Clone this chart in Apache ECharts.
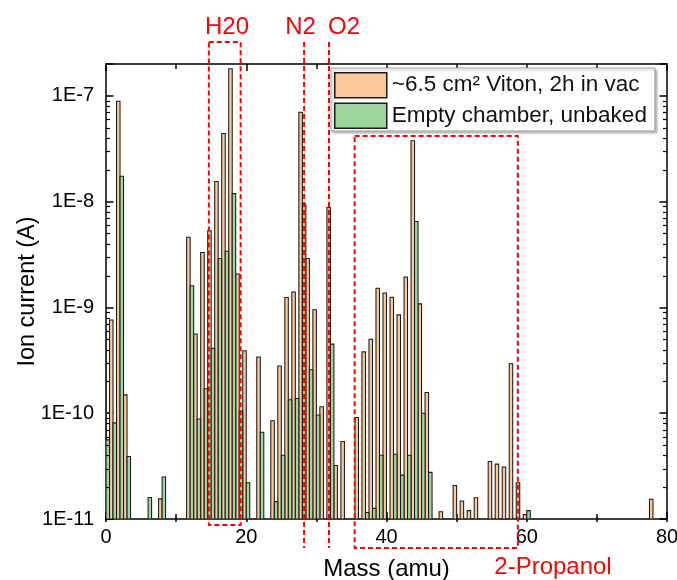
<!DOCTYPE html>
<html><head><meta charset="utf-8">
<script src="https://cdn.jsdelivr.net/npm/echarts@6/dist/echarts.min.js"></script>
<style>html,body{margin:0;padding:0;background:#fff}#c{width:677px;height:580px}</style>
</head><body><div id="c"></div>
<script>
// ---- data ----
const mass  = [0, 1, 2, 3, 6, 8, 12, 13, 14, 15, 16, 17, 18, 19, 20, 22, 24, 25, 26, 27, 28, 29, 30, 31, 32, 33, 34, 36, 37, 38, 39, 40, 41, 42, 43, 44, 45, 46, 48, 50, 51, 52, 53, 55, 56, 57, 58, 59, 60, 78];
const viton = [5.8e-10, 7.6e-10, 8.9e-8, 1.49e-10, null, 1.55e-11, 4.6e-9, 5.6e-10, 3.3e-9, 5.3e-9, 1.55e-8, 4.4e-8, 1.8e-7, 2.07e-9, 3.9e-10, 3.4e-10, 8.5e-11, 2.8e-10, 1.24e-9, 1.4e-9, 7.0e-8, 2.9e-9, 9.5e-10, 1.15e-10, 8.8e-9, 3.2e-11, 5.4e-11, 9.1e-11, 3.8e-10, 5.0e-10, 1.52e-9, 1.37e-9, 1.25e-9, 8.5e-10, 1.94e-9, 3.77e-8, 1.08e-9, 1.57e-10, 1.17e-11, 2.07e-11, 1.48e-11, 1.2e-11, 1.59e-11, 3.5e-11, 3.3e-11, 3.1e-11, 2.93e-10, 2.2e-11, 1.1e-11, 1.54e-11];
const empty = [5.6e-11, 8.1e-11, 1.74e-8, 3.9e-11, 1.6e-11, 2.5e-11, 1.6e-9, 8.8e-11, 1.7e-10, 4.1e-10, 2.9e-9, 3.4e-9, 1.19e-8, 1.05e-10, 2.2e-11, 6.6e-11, 1.46e-11, 4.0e-11, 1.34e-10, 1.38e-10, 9.5e-9, 2.57e-10, 9.6e-11, null, 4.5e-10, null, null, null, 1.15e-11, 1.26e-11, 4.0e-11, null, 4.1e-11, 2.6e-11, 4.0e-11, 6.5e-9, 1.0e-10, 2.76e-11, null, null, null, null, null, null, null, null, null, null, 1.2e-11, null];
const seriesNames = ['~6.5 cm\u00b2 Viton, 2h in vac', 'Empty chamber, unbaked'];
const xTickValues = [0, 20, 40, 60, 80];
const yTickLabels = ['1E-11', '1E-10', '1E-9', '1E-8', '1E-7'];
const annotationLabels = ['H20', 'N2', 'O2', '2-Propanol'];

const X_MIN = 0, X_MAX = 80, Y_MIN = 1e-11, Y_MAX = 2e-7;
const FONT = '"Liberation Sans", Arial, sans-serif';
const ORANGE = '#F9C89B', GREEN = '#9FD69F', EDGE = '#1a1a1a';

function pairs(vals) {
  return mass.map((m, i) => [m, vals[i]]).filter(d => d[1] != null);
}
function barRender(side, color) {
  return function (params, api) {
    const m = api.value(0), v = api.value(1);
    const top = api.coord([m, v]);
    const base = api.coord([m, Y_MIN]);
    const band = api.coord([m + 1, Y_MIN])[0] - base[0];
    const w = band * 0.5;
    const x = side < 0 ? top[0] - w : top[0];
    return {
      type: 'rect',
      shape: { x: x, y: top[1], width: w, height: base[1] - top[1] },
      style: { fill: color, stroke: EDGE, lineWidth: 1.05 }
    };
  };
}
function labelFmt(v) {
  const e = Math.log10(v), r = Math.round(e);
  if (Math.abs(e - r) > 1e-6) return '';
  const idx = r + 11;
  return yTickLabels[idx] || '';
}

const chart = echarts.init(document.getElementById('c'), null, { renderer: 'canvas' });
const axisLineStyle = { color: '#000', width: 1.5 };
const axLine = { onZero: false, lineStyle: axisLineStyle };
chart.setOption({
  animation: false,
  textStyle: { fontFamily: FONT },
  grid: { left: 106, right: 10, top: 64, bottom: 61, containLabel: false, outerBoundsMode: 'none' },
  legend: {
    orient: 'vertical', left: 331, top: 68,
    backgroundColor: '#fff', borderColor: '#999', borderWidth: 1,
    shadowColor: 'rgba(0,0,0,0.25)', shadowBlur: 2, shadowOffsetX: 2, shadowOffsetY: 2,
    padding: [4, 8, 2, 3], itemGap: 4, itemWidth: 52, itemHeight: 25, icon: 'rect',
    selectedMode: false,
    textStyle: { fontSize: 22.5, color: '#111', fontFamily: FONT },
    data: [
      { name: seriesNames[0], itemStyle: { color: ORANGE, borderColor: EDGE, borderWidth: 1.5 } },
      { name: seriesNames[1], itemStyle: { color: GREEN, borderColor: EDGE, borderWidth: 1.5 } }
    ]
  },
  xAxis: [
    {
      type: 'value', position: 'bottom', min: X_MIN, max: X_MAX, interval: 20,
      axisLine: axLine,
      axisTick: { inside: true, length: 7, lineStyle: axisLineStyle },
      minorTick: { show: true, splitNumber: 2, length: 5, lineStyle: axisLineStyle },
      splitLine: { show: false },
      axisLabel: { fontSize: 20, color: '#000', margin: 8, fontFamily: FONT,
        formatter: v => (xTickValues.indexOf(v) >= 0 ? String(v) : '') },
      name: 'Mass (amu)', nameLocation: 'middle', nameGap: 38, nameMoveOverlap: false,
      nameTextStyle: { fontSize: 24, color: '#000', fontFamily: FONT }
    },
    {
      type: 'value', position: 'top', min: X_MIN, max: X_MAX, interval: 20,
      axisLine: axLine,
      axisTick: { inside: true, length: 7, lineStyle: axisLineStyle },
      minorTick: { show: true, splitNumber: 2, length: 5, lineStyle: axisLineStyle },
      splitLine: { show: false }, axisLabel: { show: false }
    },
    {
      type: 'value', position: 'bottom', min: X_MIN, max: X_MAX, interval: 20,
      axisLine: { show: false, onZero: false },
      axisTick: { inside: false, length: 3, lineStyle: axisLineStyle },
      minorTick: { show: true, splitNumber: 2, length: 3, lineStyle: axisLineStyle },
      splitLine: { show: false }, axisLabel: { show: false }
    }
  ],
  yAxis: [
    {
      type: 'log', logBase: 10, position: 'left', min: Y_MIN, max: Y_MAX,
      axisLine: axLine,
      axisTick: { inside: true, length: 7.5, lineStyle: axisLineStyle },
      splitLine: { show: false },
      axisLabel: { fontSize: 20, color: '#000', margin: 12, fontFamily: FONT, formatter: labelFmt },
      name: 'Ion current (A)', nameLocation: 'middle', nameGap: 66, nameMoveOverlap: false,
      nameTextStyle: { fontSize: 23.5, color: '#000', fontFamily: FONT }
    },
    {
      type: 'log', logBase: 10, position: 'right', min: Y_MIN, max: Y_MAX,
      axisLine: axLine,
      axisTick: { inside: true, length: 7.5, lineStyle: axisLineStyle },
      splitLine: { show: false }, axisLabel: { show: false }
    }
  ],
  series: [
    {
      name: seriesNames[0], type: 'custom', xAxisIndex: 0, yAxisIndex: 0, clip: true,
      itemStyle: { color: ORANGE, borderColor: EDGE, borderWidth: 1.5 },
      renderItem: barRender(-1, ORANGE), encode: { x: 0, y: 1 }, data: pairs(viton), z: 2
    },
    {
      name: seriesNames[1], type: 'custom', xAxisIndex: 0, yAxisIndex: 0, clip: true,
      itemStyle: { color: GREEN, borderColor: EDGE, borderWidth: 1.5 },
      renderItem: barRender(1, GREEN), encode: { x: 0, y: 1 }, data: pairs(empty), z: 2
    }
  ]
});

// ---- decorations: log minor ticks and red annotations ----
const g = [];
const toPx = (x, y) => chart.convertToPixel({ xAxisIndex: 0, yAxisIndex: 0 }, [x, y]);
const xL = toPx(X_MIN, 1e-9)[0], xR = toPx(X_MAX, 1e-9)[0];
for (let e = -11; e <= -7; e++) {
  for (let k = 2; k <= 9; k++) {
    const v = k * Math.pow(10, e);
    if (v >= Y_MAX) continue;
    const y = Math.round(toPx(0, v)[1]) + 0.5;
    g.push({ type: 'line', z: 10, silent: true, shape: { x1: xL, y1: y, x2: xL + 4, y2: y }, style: { stroke: '#000', lineWidth: 1.2 } });
    g.push({ type: 'line', z: 10, silent: true, shape: { x1: xR - 4, y1: y, x2: xR, y2: y }, style: { stroke: '#000', lineWidth: 1.2 } });
  }
}
const red = { stroke: '#f00', lineWidth: 2, lineDash: [5, 3], fill: null };
const hx1 = toPx(14.67, 1e-9)[0], hx2 = toPx(19.2, 1e-9)[0];
const n2x = toPx(28.25, 1e-9)[0], o2x = toPx(31.8, 1e-9)[0];
const px1 = toPx(35.46, 1e-9)[0], px2 = toPx(58.73, 1e-9)[0];
g.push({ type: 'rect', z: 20, silent: true, shape: { x: hx1, y: 42, width: hx2 - hx1, height: 525 - 42 }, style: red });
g.push({ type: 'line', z: 20, silent: true, shape: { x1: n2x, y1: 42, x2: n2x, y2: 548 }, style: red });
g.push({ type: 'line', z: 20, silent: true, shape: { x1: o2x, y1: 42, x2: o2x, y2: 548 }, style: red });
g.push({ type: 'rect', z: 20, silent: true, shape: { x: px1, y: 136, width: px2 - px1, height: 548 - 136 }, style: red });
const redText = (t, x, y) => ({ type: 'text', z: 20, silent: true, x: x, y: y,
  style: { text: t, fill: '#f00', font: '24px ' + FONT, align: 'center', verticalAlign: 'middle' } });
g.push(redText(annotationLabels[0], 227, 27));
g.push(redText(annotationLabels[1], 300.5, 27));
g.push(redText(annotationLabels[2], 344, 27));
g.push(redText(annotationLabels[3], 553, 567));
chart.setOption({ graphic: g });
</script>
</body></html>
